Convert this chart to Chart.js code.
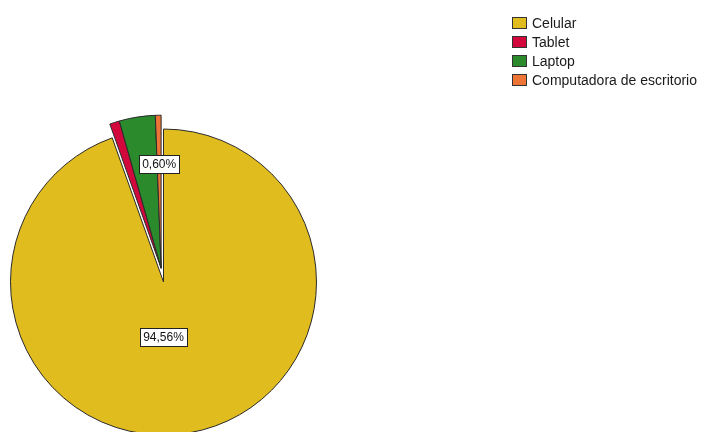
<!DOCTYPE html>
<html>
<head>
<meta charset="utf-8">
<script src="https://cdn.jsdelivr.net/npm/chart.js@4/dist/chart.umd.min.js"></script>
<style>
    html, body { margin: 0; padding: 0; background: #fff; overflow: hidden; }
    #wrap { position: relative; width: 704px; height: 432px; }
    #grafico { position: absolute; left: 0; top: 0; }
    #leyenda {
        position: absolute; left: 512px; top: 13px;
        font-family: "Liberation Sans", Arial, sans-serif; font-size: 14px; color: #1a1a1a;
        list-style: none; margin: 0; padding: 0;
    }
    #leyenda li { display: flex; align-items: center; height: 19px; white-space: nowrap; }
    #leyenda .caja {
        width: 15px; height: 12px; border: 1px solid #333; box-sizing: border-box;
        margin-right: 5px; flex: none;
    }
</style>
</head>
<body>
<div id="wrap">
    <canvas id="grafico" width="704" height="432"></canvas>
    <ul id="leyenda"></ul>
</div>
<script>
// Dispositivos usados
const dispositivos = ['Celular', 'Tablet', 'Laptop', 'Computadora de escritorio'];
const porcentajes = [94.56, 1.04, 3.80, 0.60];
const colores = ['#E1BC1F', '#D2073B', '#2B8A2C', '#EE7436'];
// sectores que se separan del resto (en bloque)
const separados = [false, true, true, true];
// solo se rotulan estos sectores
const mostrarEtiqueta = [true, false, false, true];

const SEPARACION = 14; // px
const formato = v => v.toFixed(2).replace('.', ',') + '%';

// Leyenda HTML en la esquina superior derecha
const leyenda = document.getElementById('leyenda');
dispositivos.forEach((nombre, i) => {
    const li = document.createElement('li');
    const caja = document.createElement('span');
    caja.className = 'caja';
    caja.style.background = colores[i];
    li.appendChild(caja);
    li.appendChild(document.createTextNode(nombre));
    leyenda.appendChild(li);
});

// desplazamiento común de los sectores separados, según su ángulo medio conjunto
function desplazamiento(meta) {
    const arcs = meta.data.filter((a, i) => separados[i]);
    if (!arcs.length) return { dx: 0, dy: 0 };
    const ini = Math.min(...arcs.map(a => a.startAngle));
    const fin = Math.max(...arcs.map(a => a.endAngle));
    const medio = (ini + fin) / 2;
    return { dx: Math.cos(medio) * SEPARACION, dy: Math.sin(medio) * SEPARACION };
}

// Mueve en bloque los sectores separados al dibujarlos
const separarPlugin = {
    id: 'separar',
    afterUpdate(chart) {
        const meta = chart.getDatasetMeta(0);
        meta.data.forEach((arc, i) => {
            if (!separados[i] || arc._dibujoOriginal) return;
            arc._dibujoOriginal = arc.draw;
            arc.draw = function(ctx, area) {
                const d = desplazamiento(meta);
                ctx.save();
                ctx.translate(d.dx, d.dy);
                this._dibujoOriginal(ctx, area);
                ctx.restore();
            };
        });
    }
};

// Etiquetas con recuadro blanco dentro de los sectores
const etiquetasPlugin = {
    id: 'etiquetas',
    afterDatasetsDraw(chart) {
        const ctx = chart.ctx;
        const meta = chart.getDatasetMeta(0);
        const d = desplazamiento(meta);
        ctx.save();
        ctx.font = '12px "Liberation Sans", Arial, sans-serif';
        ctx.textAlign = 'center';
        ctx.textBaseline = 'middle';
        meta.data.forEach((arc, i) => {
            if (!mostrarEtiqueta[i]) return;
            const p = arc.getProps(['x', 'y', 'startAngle', 'endAngle', 'outerRadius']);
            let ang, dist;
            if (porcentajes[i] > 50) {
                ang = Math.PI / 2;
                dist = p.outerRadius * 0.36;
            } else {
                ang = (p.startAngle + p.endAngle) / 2;
                dist = p.outerRadius * 0.68;
            }
            let x = p.x + Math.cos(ang) * dist;
            let y = p.y + Math.sin(ang) * dist;
            if (separados[i]) { x += d.dx; y += d.dy; }
            const texto = formato(porcentajes[i]);
            const w = Math.round(ctx.measureText(texto).width + 6);
            const h = 18;
            const bx = Math.round(x - w / 2) + 0.5;
            const by = Math.round(y - h / 2) + 0.5;
            ctx.fillStyle = '#fff';
            ctx.fillRect(bx, by, w, h);
            ctx.strokeStyle = '#222';
            ctx.lineWidth = 1;
            ctx.strokeRect(bx, by, w, h);
            ctx.fillStyle = '#111';
            ctx.fillText(texto, x, y + 0.5);
        });
        ctx.restore();
    }
};

new Chart(document.getElementById('grafico').getContext('2d'), {
    type: 'pie',
    data: {
        labels: dispositivos,
        datasets: [{
            data: porcentajes,
            backgroundColor: colores,
            borderColor: '#2a2a2a',
            borderWidth: 1
        }]
    },
    options: {
        responsive: false,
        animation: false,
        radius: 153,
        layout: { padding: { left: 0, right: 377, top: 132, bottom: 0 } },
        plugins: {
            legend: { display: false },
            tooltip: { enabled: false }
        }
    },
    plugins: [separarPlugin, etiquetasPlugin]
});
</script>
</body>
</html>
